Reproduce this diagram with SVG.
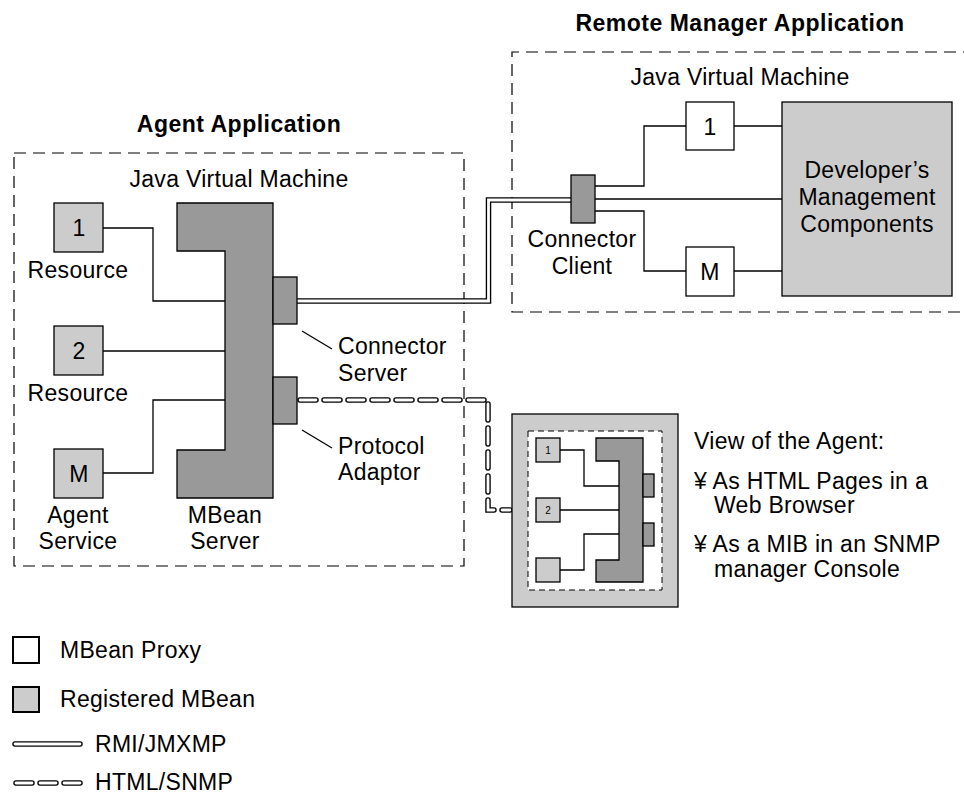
<svg xmlns="http://www.w3.org/2000/svg" width="964" height="795" viewBox="0 0 964 795">
  <style>
    text { font-family: "Liberation Sans", Arial, Helvetica, sans-serif; font-size: 23px; fill: #000; letter-spacing: 0.3px; }
    .title { font-weight: bold; letter-spacing: 0.5px; }
    .mid { text-anchor: middle; }
    .small { font-size: 10px; letter-spacing: 0; }
    .frame { fill: none; stroke: #000; stroke-width: 1.2; stroke-dasharray: 12 7; }
    .reg { fill: #cccccc; stroke: #000; stroke-width: 1.3; }
    .proxy { fill: #fff; stroke: #000; stroke-width: 1.3; }
    .core { fill: #999999; stroke: #000; stroke-width: 1.3; }
    .wire { fill: none; stroke: #000; stroke-width: 1.3; }
    .rmi-out { fill: none; stroke: #000; stroke-width: 5.5; }
    .rmi-in { fill: none; stroke: #fff; stroke-width: 2.8; }
    .http-out { fill: none; stroke: #000; stroke-width: 5.5; stroke-linecap: round; stroke-dasharray: 16 8; }
    .http-in { fill: none; stroke: #fff; stroke-width: 2.8; stroke-linecap: round; stroke-dasharray: 16 8; }
  </style>

  <!-- Titles -->
  <text class="title mid" x="239" y="132">Agent Application</text>
  <text class="title mid" x="740" y="31">Remote Manager Application</text>

  <!-- Agent JVM frame -->
  <g id="agent-jvm">
    <rect class="frame" x="14" y="153" width="450" height="413"/>
    <text class="mid" x="239" y="187">Java Virtual Machine</text>
  </g>

  <!-- Remote JVM frame (runs off the right edge) -->
  <g id="remote-jvm">
    <path class="frame" d="M975,52 H512 V312 H975"/>
    <text class="mid" x="740" y="85">Java Virtual Machine</text>
  </g>

  <!-- Connectors -->
  <g id="connectors">
    <!-- agent side wiring -->
    <path class="wire" d="M103,228 H153 V301 H225"/>
    <path class="wire" d="M103,351 H225"/>
    <path class="wire" d="M103,473 H153 V400 H225"/>
    <!-- callout ticks -->
    <path class="wire" d="M302,331 L332,349"/>
    <path class="wire" d="M302,430 L332,448"/>
    <!-- manager side wiring -->
    <path class="wire" d="M595,186 H644 V126 H686"/>
    <path class="wire" d="M734,126 H782"/>
    <path class="wire" d="M595,199 H782"/>
    <path class="wire" d="M595,211 H644 V271 H686"/>
    <path class="wire" d="M734,271 H782"/>
    <!-- RMI/JMXMP link -->
    <path class="rmi-out" d="M297,301 H488.5 V200 H571"/>
    <path class="rmi-in" d="M297,301 H488.5 V200 H571"/>
    <!-- HTML/SNMP link -->
    <path class="http-out" d="M300,400 H488 V510 H510"/>
    <path class="http-in" d="M300,400 H488 V510 H510"/>
  </g>

  <!-- Agent nodes -->
  <g id="resource-1">
    <rect class="reg" x="54" y="203" width="49" height="49"/>
    <text class="mid" x="79" y="236">1</text>
    <text class="mid" x="78" y="278">Resource</text>
  </g>
  <g id="resource-2">
    <rect class="reg" x="54" y="326" width="49" height="49"/>
    <text class="mid" x="79" y="359">2</text>
    <text class="mid" x="78" y="401">Resource</text>
  </g>
  <g id="agent-service">
    <rect class="reg" x="54" y="449" width="49" height="49"/>
    <text class="mid" x="79" y="482">M</text>
    <text class="mid" x="78" y="523">Agent</text>
    <text class="mid" x="78" y="549">Service</text>
  </g>
  <g id="mbean-server">
    <polygon class="core" points="177,203 273,203 273,498 177,498 177,450 225,450 225,251 177,251"/>
    <text class="mid" x="225" y="523">MBean</text>
    <text class="mid" x="225" y="549">Server</text>
  </g>
  <g id="connector-server">
    <rect class="core" x="273" y="277" width="24" height="47"/>
    <text x="338" y="354">Connector</text>
    <text x="338" y="381">Server</text>
  </g>
  <g id="protocol-adaptor">
    <rect class="core" x="273" y="377" width="24" height="47"/>
    <text x="338" y="454">Protocol</text>
    <text x="338" y="480">Adaptor</text>
  </g>

  <!-- Manager nodes -->
  <g id="connector-client">
    <rect class="core" x="571" y="175" width="24" height="48"/>
    <text class="mid" x="582" y="247">Connector</text>
    <text class="mid" x="582" y="274">Client</text>
  </g>
  <g id="proxy-1">
    <rect class="proxy" x="686" y="102" width="48" height="48"/>
    <text class="mid" x="710" y="135">1</text>
  </g>
  <g id="proxy-m">
    <rect class="proxy" x="686" y="247" width="48" height="49"/>
    <text class="mid" x="710" y="280">M</text>
  </g>
  <g id="management-components">
    <rect class="reg" x="782" y="102" width="170" height="194"/>
    <text class="mid" x="867" y="178">Developer’s</text>
    <text class="mid" x="867" y="205">Management</text>
    <text class="mid" x="867" y="232">Components</text>
  </g>

  <!-- Browser / console view of the agent -->
  <g id="agent-view">
    <rect class="reg" x="512" y="414" width="166" height="193"/>
    <rect x="528" y="431" width="134" height="159" fill="#fff" stroke="#000" stroke-width="1" stroke-dasharray="6 4"/>
    <path class="wire" d="M560,450 H584 V486 H619" stroke-width="1"/>
    <path class="wire" d="M560,510 H619" stroke-width="1"/>
    <path class="wire" d="M560,570 H584 V534 H619" stroke-width="1"/>
    <rect class="reg" x="536" y="438" width="24" height="24" stroke-width="1"/>
    <text class="mid small" x="548" y="454">1</text>
    <rect class="reg" x="536" y="498" width="24" height="24" stroke-width="1"/>
    <text class="mid small" x="548" y="514">2</text>
    <rect class="reg" x="536" y="558" width="24" height="24" stroke-width="1"/>
    <polygon class="core" stroke-width="1" points="596,438 643,438 643,582 596,582 596,560 619,560 619,461 596,461"/>
    <rect class="core" stroke-width="1" x="643" y="474" width="11" height="23"/>
    <rect class="core" stroke-width="1" x="643" y="523" width="11" height="23"/>
  </g>

  <g id="view-notes">
    <text x="694" y="449">View of the Agent:</text>
    <text x="694" y="489">¥ As HTML Pages in a</text>
    <text x="714" y="513">Web Browser</text>
    <text x="694" y="552">¥ As a MIB in an SNMP</text>
    <text x="714" y="577">manager Console</text>
  </g>

  <!-- Legend -->
  <g id="legend">
    <rect x="13" y="637" width="26" height="26" fill="#fff" stroke="#000" stroke-width="2"/>
    <text x="60" y="658">MBean Proxy</text>
    <rect x="13" y="687" width="26" height="25" fill="#cccccc" stroke="#000" stroke-width="2"/>
    <text x="60" y="707">Registered MBean</text>
    <path class="rmi-out" d="M15,744 H80" stroke-linecap="round"/>
    <path class="rmi-in" d="M15,744 H80" stroke-linecap="round"/>
    <text x="95" y="752">RMI/JMXMP</text>
    <path class="http-out" d="M16,783 H82"/>
    <path class="http-in" d="M16,783 H82"/>
    <text x="95" y="790">HTML/SNMP</text>
  </g>
</svg>
